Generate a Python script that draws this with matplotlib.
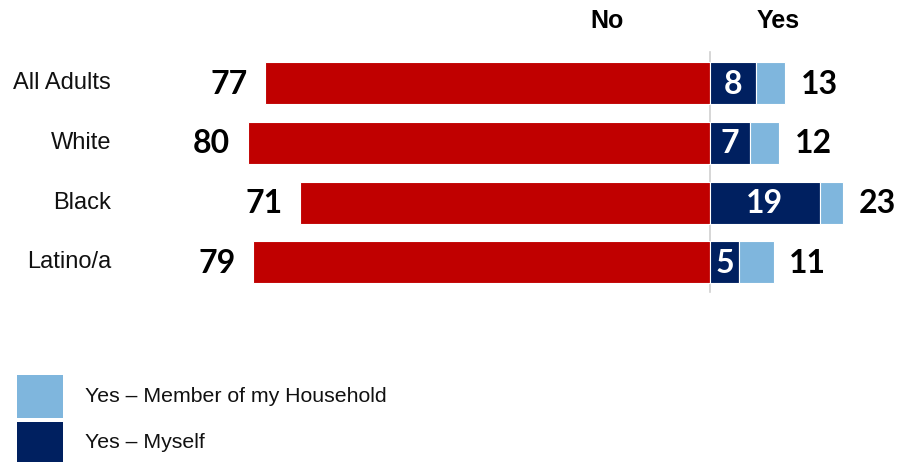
import matplotlib
matplotlib.use("Agg")
import matplotlib.pyplot as plt
from matplotlib.patches import Rectangle

categories = ["All Adults", "White", "Black", "Latino/a"]
no_vals = [77, 80, 71, 79]
yes_total = [13, 12, 23, 11]
yes_myself = [8, 7, 19, 5]
yes_household = [t - m for t, m in zip(yes_total, yes_myself)]

RED = "#C00000"
NAVY = "#002060"
LIGHT = "#7FB6DD"

W, H = 901, 462
fig = plt.figure(figsize=(W / 100, H / 100), dpi=100)
ax = fig.add_axes([0, 0, 1, 1])

px = 5.78          # pixels per percentage point
x0 = 710           # zero line position in pixels
row = 60           # row spacing in pixels
ax.set_xlim(-x0 / px, (W - x0) / px)
ax.set_ylim(3 + (H - 262) / row, -83 / row)
ax.axis("off")

ys = list(range(len(categories)))
bh = 0.70

ax.barh(ys, [-v for v in no_vals], height=bh, color=RED, edgecolor="white", linewidth=0.8)
ax.barh(ys, yes_myself, height=bh, color=NAVY, edgecolor="white", linewidth=0.8)
ax.barh(ys, yes_household, left=yes_myself, height=bh, color=LIGHT, edgecolor="white", linewidth=0.8)

ax.plot([0, 0], [-0.52, 3.5], color="#D0D0D0", lw=1.2, zorder=0)

num_font = dict(family="Lato", weight="bold", fontsize=23, color="black")
label_x = -(x0 - 111) / px
for y, cat, n, t, m in zip(ys, categories, no_vals, yes_total, yes_myself):
    ax.text(label_x, y, cat, ha="right", va="center",
            family="Liberation Sans", fontsize=17, color="#111111")
    ax.text(-n - 3.0, y + 0.02, str(n), ha="right", va="center", **num_font)
    ax.text(t + 2.7, y + 0.02, str(t), ha="left", va="center", **num_font)
    ax.text(m / 2, y + 0.02, str(m), ha="center", va="center", family="Lato",
            weight="bold", fontsize=23, color="white")

ax.text(-(x0 - 607) / px, -1.03, "No", ha="center", va="center",
        family="Liberation Sans", weight="bold", fontsize=18)
ax.text((778 - x0) / px, -1.03, "Yes", ha="center", va="center",
        family="Liberation Sans", weight="bold", fontsize=18)

# legend keys
def fx(p):
    return p / W

def fy(p):
    return 1 - p / H

for top, bottom, color, label in [(375, 418, LIGHT, "Yes \u2013 Member of my Household"),
                                  (422, 462, NAVY, "Yes \u2013 Myself")]:
    fig.add_artist(Rectangle((fx(17), fy(bottom)), fx(63) - fx(17), fy(top) - fy(bottom),
                             transform=fig.transFigure, color=color, lw=0))
    fig.text(fx(85), fy((top + bottom) / 2), label, ha="left", va="center",
             family="Liberation Sans", fontsize=15.3, color="#111111")

fig.savefig("out.png", dpi=100)
